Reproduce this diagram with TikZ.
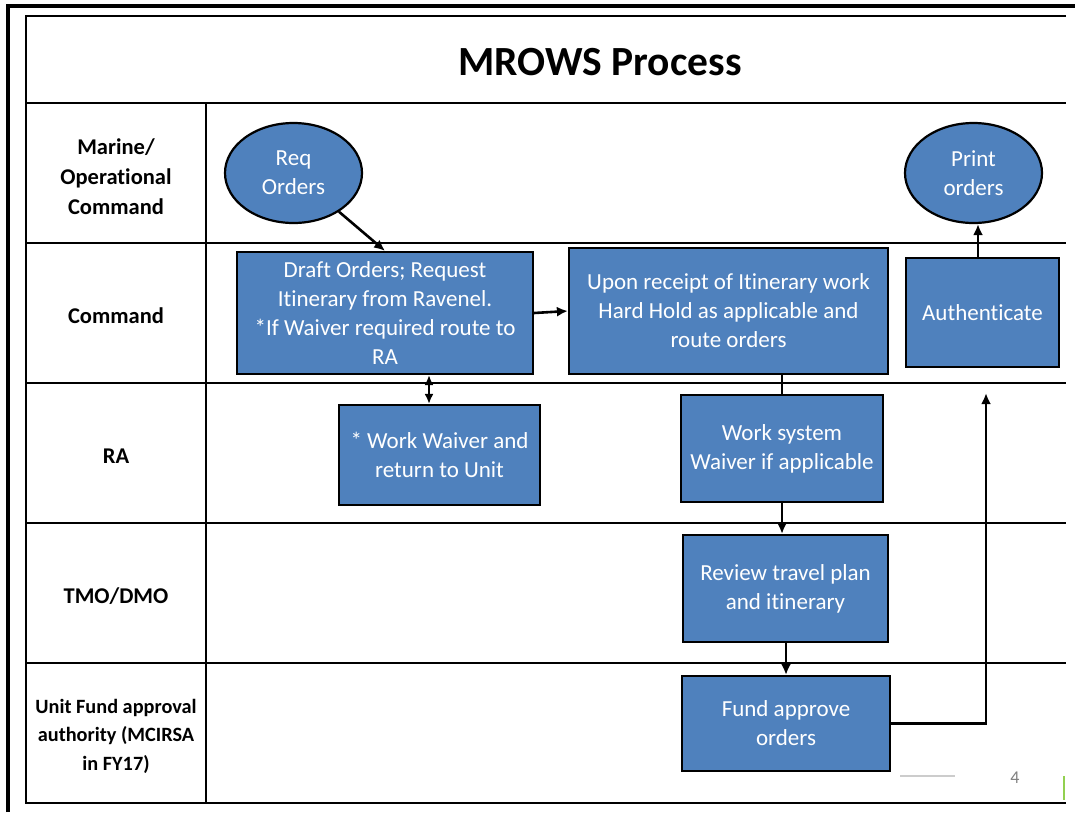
\documentclass[tikz,border=0pt]{standalone}
\usepackage{fontspec}
\setmainfont{Carlito}[Ligatures=NoCommon]
\usepackage{tikz}
\usetikzlibrary{shapes.geometric, arrows.meta, positioning, calc}
\definecolor{stepblue}{HTML}{4F81BD}
\definecolor{pagegreen}{HTML}{92D050}

\begin{document}
\begin{tikzpicture}[
  x=1pt,y=-1pt,
  task/.style={
    rectangle, draw=black, line width=2.2pt, fill=stepblue,
    text=white, align=center, font=\fontsize{23}{29}\selectfont
  },
  terminal/.style={
    ellipse, draw=black, line width=2.2pt, fill=stepblue,
    minimum width=137pt, minimum height=100pt, inner sep=0pt,
    text=white, align=center, font=\fontsize{23}{29}\selectfont
  },
  lane/.style={font=\fontsize{22.5}{30}\selectfont\bfseries, align=center},
  grid/.style={line width=2.4pt},
  arrow/.style={-{Latex[length=11pt,width=10pt]}, line width=2.6pt},
  dblarrow/.style={{Latex[length=10pt,width=9pt]}-{Latex[length=10pt,width=9pt]}, line width=2.4pt}
]
\useasboundingbox (0,0) rectangle (1075,812);

% ---- frame and swimlane table ----
\draw[line width=3.2pt] (8,812) -- (8,6) -- (1075,6);
\draw[grid] (1066,16) -- (26,16) -- (26,803) -- (1066,803);
\draw[grid] (206,103) -- (206,803);
\foreach \y in {103,243,383,523,663}
  \draw[grid] (26,\y) -- (1066,\y);

\node[font=\fontsize{41.5}{45}\selectfont\bfseries] (title) at (600,62) {MROWS Process};

% ---- lane labels ----
\node[lane] (lmarine)  at (116,177) {Marine/\\Operational\\Command};
\node[lane] (lcommand) at (116,316) {Command};
\node[lane] (lra)      at (116,456) {RA};
\node[lane] (ltmo)     at (116,596) {TMO/DMO};
\node[lane, font=\fontsize{20.3}{28.5}\selectfont\bfseries] (lfund) at (116,736) {Unit Fund approval\\authority (MCIRSA\\in FY17)};

% ---- process steps ----
\node[terminal] (req)   at (293.5,173) {Req\\Orders};
\node[terminal] (print) at (973.5,173) {Print\\orders};

\node[task, minimum width=296pt, minimum height=122pt] (draft)  at (385,313)   {Draft Orders; Request\\Itinerary from Ravenel.\\*If Waiver required route to\\RA};
\node[task, minimum width=319pt, minimum height=126pt] (upon)   at (728.5,311) {Upon receipt of Itinerary work\\Hard Hold as applicable and\\route orders};
\node[task, minimum width=153pt, minimum height=109pt] (auth)   at (982.5,312.5) {Authenticate};
\node[task, minimum width=201pt, minimum height=100pt] (waiver) at (439.5,455) {* Work Waiver and\\return to Unit};
\node[task, minimum width=202pt, minimum height=107pt] (system) at (782,448.5) {Work system\\Waiver if applicable};
\node[task, minimum width=205pt, minimum height=107pt] (review) at (785.5,588.5) {Review travel plan\\and itinerary};
\node[task, minimum width=208pt, minimum height=95pt]  (fund)   at (786,723.5) {Fund approve\\orders};

% ---- connectors ----
\draw[arrow] (req) -- (draft.north);
\draw[arrow] (draft.east) -- (upon.west);
\draw[dblarrow] ([xshift=44pt]draft.south) -- ([xshift=-10.5pt]waiver.north);
\draw[line width=2.6pt] (upon.south -| system.north) -- (system.north);
\draw[arrow] (system.south) -- (system.south |- review.north);
\draw[arrow] (review.south -| fund.north) -- (fund.north);
\coordinate (authin) at ([xshift=3.5pt,yshift=-25pt]auth.south);
\draw[arrow] (fund.east) -| (authin);
\draw[arrow] ([xshift=-4.5pt]auth.north) -- ([xshift=4.5pt]print.south);

% ---- footer ----
\draw[black!20, line width=1.2pt] (900,776) -- (955,776);
\node[text=black!50, font=\fontsize{18}{20}\selectfont] (pagenum) at (1015,778) {4};
\draw[pagegreen, line width=2pt] (1064,776) -- (1064,800);
\end{tikzpicture}
\end{document}
